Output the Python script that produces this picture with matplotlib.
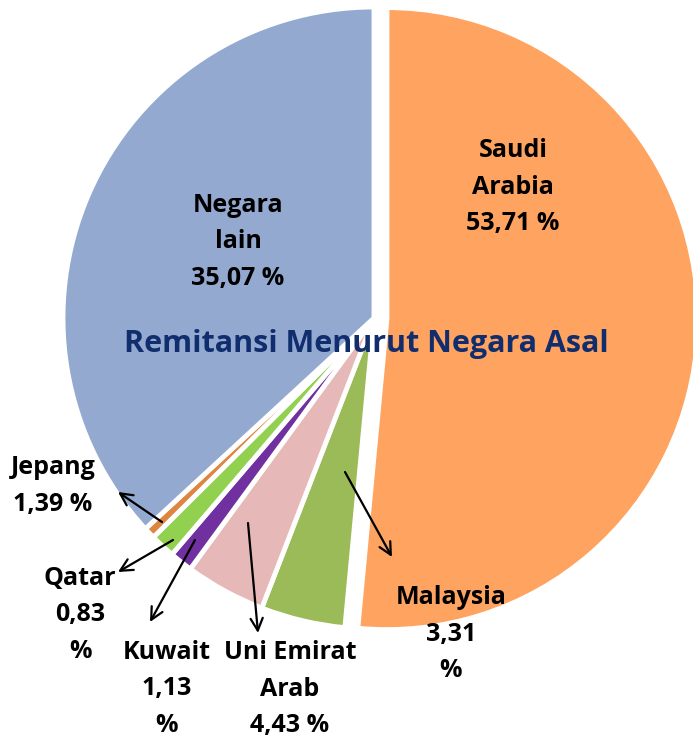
import matplotlib
matplotlib.use("Agg")
import matplotlib.pyplot as plt

W, H = 693, 738

countries = ["Saudi\nArabia", "Malaysia", "Uni Emirat\nArab", "Kuwait", "Qatar", "Jepang", "Negara\nlain"]
label_values = ["53,71 %", "3,31\n%", "4,43 %", "1,13\n%", "0,83\n%", "1,39 %", "35,07 %"]
# slice shares as drawn in the picture (they differ a bit from the printed labels)
shares = [51.7, 4.4, 4.2, 1.2, 1.3, 0.6, 37.0]
colors = ["#FFA360", "#9BBB59", "#E6B8B7", "#7030A0", "#92D050", "#DE8640", "#94A9D0"]
explode = [13, 0, 0, 0, 0, 0, 0]  # pie explode is in data units (pixels here)


def px(x, y):
    # picture pixel coords (y down) -> axes data coords
    return x, H - y


fig = plt.figure(figsize=(W / 100, H / 100), dpi=100)
ax = fig.add_axes([0, 0, 1, 1])

ax.pie(
    shares,
    colors=colors,
    explode=explode,
    startangle=90,
    counterclock=False,
    center=px(374, 318),
    radius=311,
    wedgeprops=dict(edgecolor="white", linewidth=3.5),
)
ax.set_xlim(0, W)
ax.set_ylim(0, H)
ax.set_aspect("equal")
ax.axis("off")

font = dict(family="Open Sans", weight="bold", fontsize=18, ha="center", va="center",
            linespacing=1.6, color="black")

label_pos = [(513, 187), (451, 634), (290, 689), (167, 689), (80, 615), (53, 486), (238, 242)]
for name, val, (x, y) in zip(countries, label_values, label_pos):
    ax.text(*px(x, y), f"{name}\n{val}", **font)

ax.text(*px(366, 344), "Remitansi Menurut Negara Asal", family="Open Sans", weight="bold",
        fontsize=22, color="#102D6E", ha="center", va="center")

# arrows from slices to their labels (tail, head)
arrows = [
    ((345, 472), (392, 557)),   # Malaysia
    ((248, 523), (258, 633)),   # Uni Emirat Arab
    ((195, 540), (150, 622)),   # Kuwait
    ((173, 540), (118, 572)),   # Qatar
    ((162, 522), (118, 492)),   # Jepang
]
for tail, head in arrows:
    ax.annotate("", xy=px(*head), xytext=px(*tail),
                arrowprops=dict(arrowstyle="->", color="black", lw=1.6,
                                mutation_scale=22, shrinkA=0, shrinkB=0))

fig.savefig("out.png", dpi=100)
